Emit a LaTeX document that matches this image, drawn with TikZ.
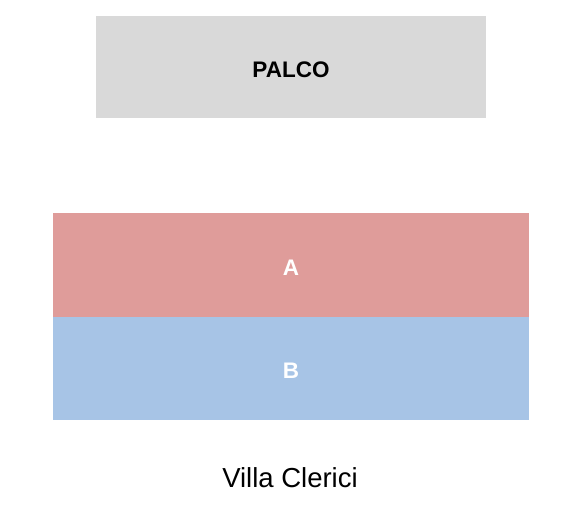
\documentclass[tikz,border=0pt]{standalone}
\usepackage{fontspec}
\setmainfont{Liberation Sans}
\usepackage{xcolor}
\usetikzlibrary{positioning}
\definecolor{gris}{RGB}{217,217,217}
\definecolor{rojo}{RGB}{223,156,154}
\definecolor{azul}{RGB}{167,196,230}
\tikzset{
    zona/.style={rectangle, inner sep=0pt, outer sep=0pt},
    rotulo/.style={inner sep=0pt, font=\fontsize{22.5}{24}\selectfont\bfseries},
}
\begin{document}
\begin{tikzpicture}[x=1pt, y=-1pt]
        % Marco de la imagen
        \useasboundingbox (0,0) rectangle (580,506);
        % Escenario
        \node[zona, fill=gris, minimum width=390pt, minimum height=102pt] (palco) at (291,67) {};
        \node[rotulo] (tpalco) at ([yshift=-3pt]palco.center) {PALCO};
        % Sectores A y B
        \node[zona, fill=rojo, minimum width=476pt, minimum height=104pt] (secA) at (291,265) {};
        \node[zona, fill=azul, minimum width=476pt, minimum height=103pt, below=0pt of secA] (secB) {};
        \node[rotulo, text=white] (tA) at ([yshift=-3pt]secA.center) {A};
        \node[rotulo, text=white] (tB) at ([yshift=-2pt]secB.center) {B};
        % Nombre del lugar
        \node[font=\fontsize{27.5}{30}\selectfont] (lugar) at (290,478) {Villa Clerici};
    \end{tikzpicture}
\end{document}
